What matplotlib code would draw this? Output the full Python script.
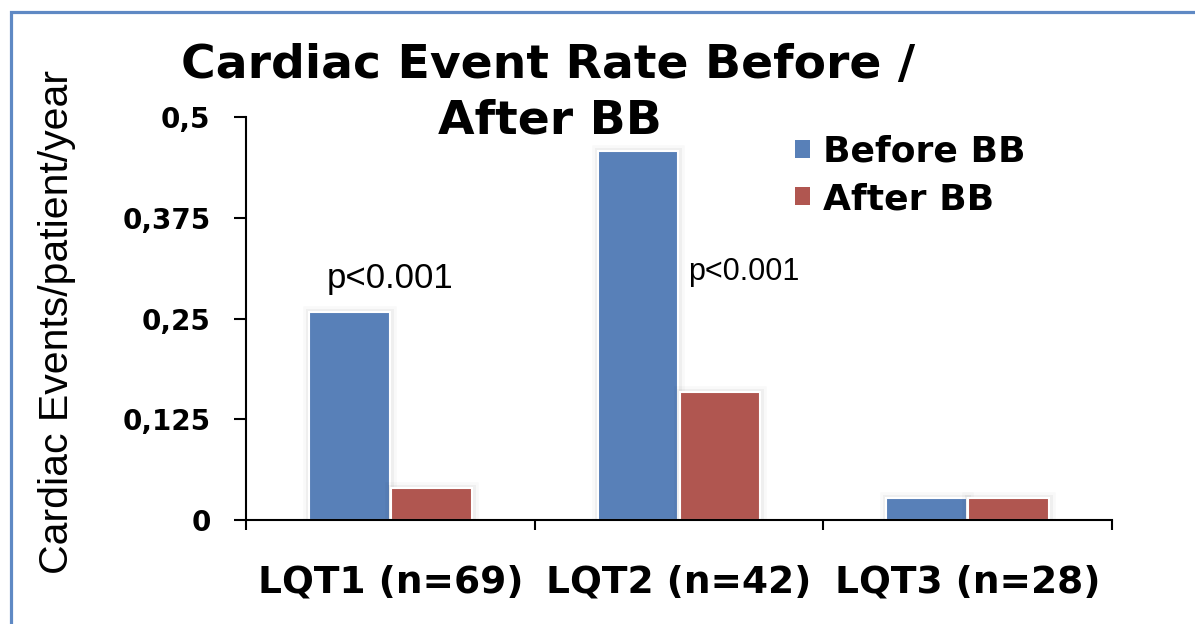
import matplotlib
matplotlib.use("Agg")
import matplotlib.pyplot as plt
import matplotlib.patheffects as pe
from matplotlib.patches import Rectangle, Patch
import numpy as np

# --- data -------------------------------------------------------------
categories = ["LQT1 (n=69)", "LQT2 (n=42)", "LQT3 (n=28)"]
before_bb = [0.258, 0.458, 0.027]
after_bb = [0.040, 0.159, 0.027]
series_names = ["Before BB", "After BB"]
y_ticks = [0, 0.125, 0.25, 0.375, 0.5]
y_tick_labels = ["0", "0,125", "0,25", "0,375", "0,5"]
p_labels = ["p<0.001", "p<0.001"]
title_lines = ["Cardiac Event Rate Before /", "After BB"]

BLUE = "#5880b8"
RED = "#b05650"
BORDER = "#5f89c4"

W, H = 1195, 624
fig = plt.figure(figsize=(W / 100, H / 100), dpi=100)
fig.patch.set_facecolor("white")

# outer frame (only top and left edges fall inside the canvas)
fig.add_artist(Rectangle((10.5 / W, -0.2), 1.5, 1.2 - 11.5 / H,
                         transform=fig.transFigure, fill=False,
                         edgecolor=BORDER, linewidth=2.3))

ax = fig.add_axes([246 / W, 1 - 520 / H, (1112 - 246) / W, (520 - 117) / H])

x = np.arange(len(categories)) + 0.5
width = 0.28
glow = [pe.Stroke(linewidth=9, foreground="black", alpha=0.025),
        pe.Stroke(linewidth=5, foreground="black", alpha=0.04),
        pe.Normal()]

bars_before = ax.bar(x - 0.142, before_bb, width, color=BLUE,
                     edgecolor="white", linewidth=1.5, zorder=2)
bars_after = ax.bar(x + 0.142, after_bb, width, color=RED,
                    edgecolor="white", linewidth=1.5, zorder=2)
for bar in list(bars_before) + list(bars_after):
    bar.set_path_effects(glow)

ax.set_xlim(0, len(categories))
ax.set_ylim(0, 0.5)

for side in ("top", "right"):
    ax.spines[side].set_visible(False)
for side in ("left", "bottom"):
    ax.spines[side].set_linewidth(1.5)
    ax.spines[side].set_color("black")

ax.set_yticks(y_ticks)
ax.set_yticklabels(y_tick_labels, fontsize=20, fontweight="bold",
                   family="DejaVu Sans")
ax.tick_params(axis="y", direction="out", length=8.5, width=1.5, pad=17)

ax.set_xticks(np.arange(len(categories) + 1))
ax.set_xticklabels([])
ax.tick_params(axis="x", which="major", direction="out", length=7, width=1.5)
ax.set_xticks(x, minor=True)
ax.set_xticklabels(categories, minor=True, fontsize=27, fontweight="bold",
                   family="DejaVu Sans")
ax.tick_params(axis="x", which="minor", length=0, pad=32)

# significance annotations
ax.text(x[0], before_bb[0] + 0.042, p_labels[0], ha="center", va="center",
        fontsize=25, family="Liberation Sans")
ax.text(1.531, 0.308, p_labels[1], ha="left", va="center",
        fontsize=22, family="Liberation Sans")

# axis title and chart title
fig.text(57 / W, 1 - 322 / H, "Cardiac Events/patient/year", rotation=90,
         ha="center", va="center", fontsize=29.5, family="Liberation Sans")
fig.text(548 / W, 1 - 66 / H, title_lines[0], ha="center", va="center",
         fontsize=34, fontweight="bold", family="DejaVu Sans")
fig.text(550 / W, 1 - 121 / H, title_lines[1], ha="center", va="center",
         fontsize=34, fontweight="bold", family="DejaVu Sans")

handles = [Patch(facecolor=BLUE, edgecolor="none"),
           Patch(facecolor=RED, edgecolor="none")]
ax.legend(handles, series_names, loc="upper left",
          bbox_to_anchor=(795 / W, 1 - 135 / H),
          bbox_transform=fig.transFigure, frameon=False,
          prop={"family": "DejaVu Sans", "weight": "bold", "size": 26},
          handlelength=0.42, handleheight=0.42, handletextpad=0.35,
          labelspacing=0.36, borderpad=0, borderaxespad=0)

fig.savefig("out.png", dpi=100, facecolor="white")
